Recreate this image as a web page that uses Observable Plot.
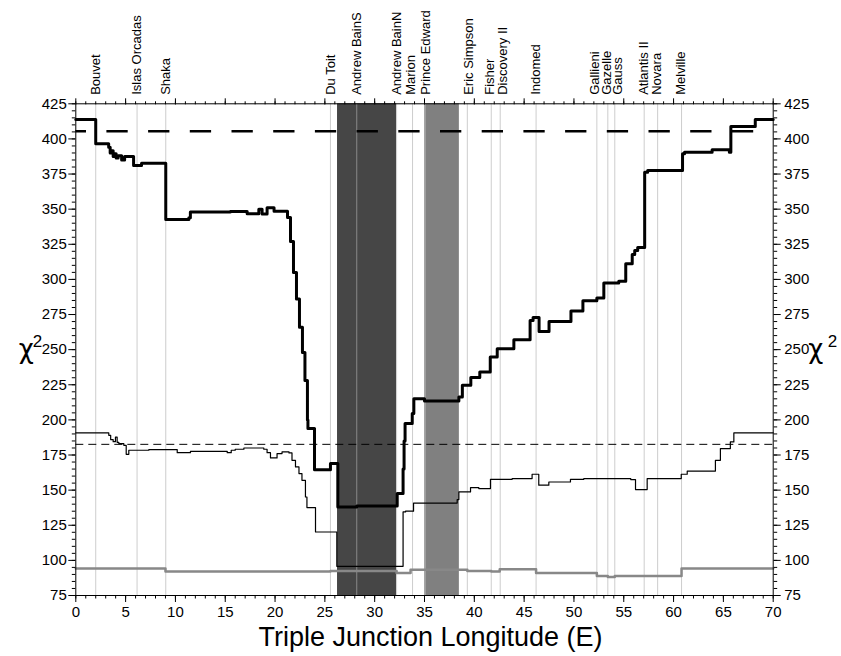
<!DOCTYPE html>
<html><head><meta charset="utf-8">
<script src="https://cdn.jsdelivr.net/npm/d3@7"></script>
<script src="https://cdn.jsdelivr.net/npm/@observablehq/plot@0.6"></script>
<style>body{margin:0;background:#fff}</style>
</head><body><div id="chart"></div>
<script>
const ridgeNames = ["Bouvet","Islas Orcadas","Shaka","Du Toit","Andrew BainS","Andrew BainN","Marion","Prince Edward","Eric Simpson","Fisher","Discovery II","Indomed","Gallieni","Gazelle","Gauss","Atlantis II","Novara","Melville"];
const ridgeLons = [2.0,6.15,9.03,25.56,28.2,32.2,33.8,35.1,39.3,41.7,42.6,46.2,52.3,53.4,54.1,57.05,58.4,60.8];
const ridgeLabelLons = [2.0,6.15,9.03,25.56,28.2,32.25,33.6,35.1,39.4,41.55,42.85,46.2,52.05,53.3,54.4,57.0,58.35,60.75];
const darkBand = [26.27, 32.19];
const lightBand = [35.03, 38.5];
const thickThreshold = 405.5;
const thinThreshold = 182.6;

const thickLon = [0,2.0,3.3,3.45,3.6,3.75,3.9,4.05,4.25,4.6,4.9,5.8,6.6,9.03,11.35,11.5,15.5,17.2,18.37,18.7,19.2,19.9,21.1,21.25,21.55,21.85,22.15,22.45,22.75,23.0,23.25,23.3,23.96,25.56,26.3,28.2,32.26,32.85,32.95,33.05,33.77,33.93,35.0,38.45,38.8,39.65,40.55,41.6,42.3,43.97,45.6,45.9,46.5,47.5,49.7,50.9,52.3,53.0,54.5,55.2,55.85,56.1,56.4,57.1,57.4,60.9,61.1,63.87,65.6,65.75,68.2,70];
const thickChi = [413.8,396.5,394,390,391.5,387.5,389.5,386.5,388,385,387.5,381,382.7,342.7,343.9,347.9,348.3,346.8,350,346.5,351,348.6,348.6,344,327,305,286,266,248,228,200,193.8,164.6,168.9,138.0,138.7,147.6,165,185,197.4,204.5,215.1,213.4,216.3,224.7,230.1,234.1,244.7,250.7,257.1,270.8,272.8,263,270.1,277.5,284.8,286.7,297.4,298.6,311.2,317.8,320.6,322.8,376.3,377.5,389.4,390.6,392.3,390.6,408.9,413.8,413.8];

const thinLon = [0,3.31,3.5,3.75,3.98,4.15,4.32,4.82,5.06,5.32,7.33,10.18,11.51,15.2,15.6,16.0,16.87,18.87,19.2,19.54,20.2,20.7,21.4,21.7,22.05,22.4,22.7,23.05,23.2,24.06,26.2,32.85,33.1,33.9,38.28,38.45,39.62,40.45,41.62,43.8,45.8,46.47,47.48,49.65,50.99,55.7,56.18,57.35,60.77,61.37,64.2,64.7,65.7,66.05,70];
const thinChi = [190.7,189,186,184.5,187.8,184,183.1,181.9,175.5,178.4,178.9,176.7,177.6,176.7,178.4,179.1,180,179.1,176.7,172.9,176,177.2,176.5,171.2,166.5,161.8,157,145.1,137.6,120.2,95.8,134.5,135,140.8,143.3,148.7,151.8,151.1,157.7,158.2,161.3,153.5,155.8,157.7,158.2,157.5,150.4,158.2,161.3,163.6,171.2,179.6,184.3,190.7,190.7];

const grayLon = [0,9.0,25.56,32.2,33.6,39.3,41.7,42.55,46.2,52.3,53.4,54.1,60.8,70];
const grayChi = [94.2,92.0,92.5,91.1,93.3,92.5,92.0,93.6,91.1,88.9,88.2,88.9,94.2,94.2];

const xMajor = d3.range(0, 71, 5);
const xMinor = d3.range(0, 71, 1);
const yMajor = d3.range(75, 426, 25);
const yMinor = d3.range(75, 426, 5);

const ridges = ridgeNames.map((name, i) => ({name, lon: ridgeLons[i], labelLon: ridgeLabelLons[i]}));
const thick = thickLon.map((x, i) => ({x, y: thickChi[i]}));
const thin = thinLon.map((x, i) => ({x, y: thinChi[i]}));
const gray = grayLon.map((x, i) => ({x, y: grayChi[i]}));

const font = "'Liberation Sans', Arial, Helvetica, sans-serif";
const chiFont = "'DejaVu Sans', sans-serif";
const chart = Plot.plot({
  width: 841, height: 656,
  marginLeft: 75.3, marginRight: 68.3, marginTop: 103.3, marginBottom: 61,
  style: {fontFamily: font, fontSize: "15px", color: "black", background: "white"},
  x: {domain: [0, 70]},
  y: {domain: [75, 425]},
  marks: [
    Plot.rect([darkBand], {x1: d => d[0], x2: d => d[1], fill: "#464646"}),
    Plot.rect([lightBand], {x1: d => d[0], x2: d => d[1], fill: "#808080"}),
    Plot.ruleX(ridges, {x: "lon", stroke: "#b0b0b0", strokeOpacity: 0.64, strokeWidth: 1}),
    Plot.ruleY([thickThreshold], {stroke: "black", strokeWidth: 2.5, strokeDasharray: "21.3,20.4", strokeDashoffset: 10.6}),
    Plot.ruleY([thinThreshold], {stroke: "black", strokeWidth: 1, strokeDasharray: "8,5"}),
    Plot.line(gray, {x: "x", y: "y", curve: "step-after", stroke: "#888", strokeWidth: 2.5}),
    Plot.line(thin, {x: "x", y: "y", curve: "step-after", stroke: "black", strokeWidth: 1.2}),
    Plot.line(thick, {x: "x", y: "y", curve: "step-after", stroke: "black", strokeWidth: 3}),
    Plot.frame({stroke: "black"}),
    Plot.axisX(xMajor, {anchor: "bottom", tickSize: 7, tickPadding: 4, fontSize: 15, label: null}),
    Plot.axisX(xMinor, {anchor: "bottom", tickSize: 3.5, tickFormat: () => "", label: null}),
    Plot.axisX(xMajor, {anchor: "top", tickSize: 6, tickFormat: () => "", label: null}),
    Plot.axisX(xMinor, {anchor: "top", tickSize: 3, tickFormat: () => "", label: null}),
    Plot.axisY(yMajor, {anchor: "left", tickSize: 7, tickPadding: 2, fontSize: 15, label: null}),
    Plot.axisY(yMinor, {anchor: "left", tickSize: 3.5, tickFormat: () => "", label: null}),
    Plot.axisY(yMajor, {anchor: "right", tickSize: 7, tickPadding: 4, fontSize: 15, label: null}),
    Plot.axisY(yMinor, {anchor: "right", tickSize: 3.5, tickFormat: () => "", label: null}),
    Plot.text(ridges, {x: "labelLon", text: "name", frameAnchor: "top", rotate: -90, textAnchor: "start", lineAnchor: "middle", dy: -9, fontSize: 13}),
    Plot.text(["χ"], {text: d => d, y: () => 250, frameAnchor: "left", dx: -57, fontSize: 26, fontFamily: chiFont}),
    Plot.text(["2"], {text: d => d, y: () => 250, frameAnchor: "left", dx: -43, dy: -8, fontSize: 17}),
    Plot.text(["χ"], {text: d => d, y: () => 250, frameAnchor: "right", dx: 50, fontSize: 26, fontFamily: chiFont}),
    Plot.text(["2"], {text: d => d, y: () => 250, frameAnchor: "right", dx: 64, dy: -8, fontSize: 17}),
    Plot.text(["Triple Junction Longitude (E)"], {text: d => d, frameAnchor: "bottom", dx: 6, dy: 50, fontSize: 27})
  ]
});
document.getElementById("chart").appendChild(chart);
</script>
</body></html>
